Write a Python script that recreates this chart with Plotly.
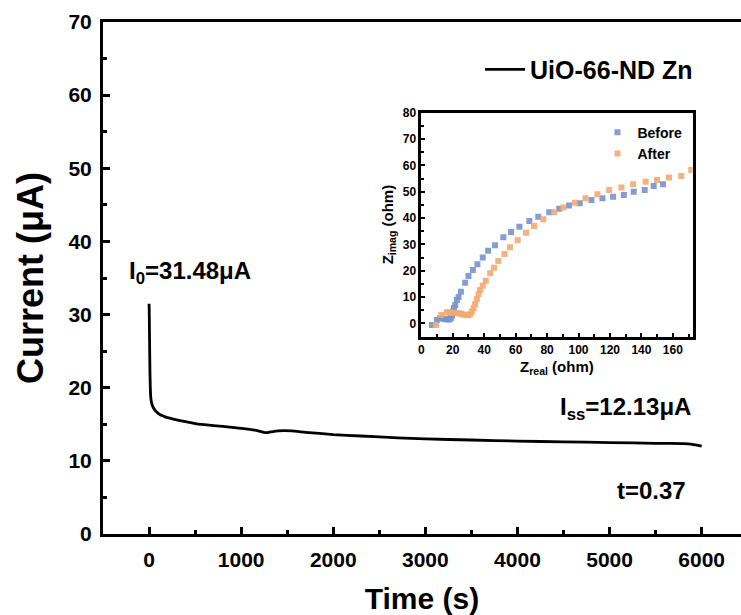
import plotly.graph_objects as go

# ---- main chronoamperometry curve ----
time_s = [0, 2, 5, 10, 15, 20, 30, 50, 80, 120, 160, 200, 300, 400, 500, 600, 800,
          1000, 1150, 1270, 1320, 1400, 1550, 1700, 2000, 2300, 2700, 3000, 3500,
          4000, 4500, 5000, 5500, 5800, 5900, 6000]
current_uA = [31.48, 30.5, 27.0, 22.0, 19.5, 18.5, 17.8, 17.2, 16.7, 16.3, 16.1, 15.9,
              15.6, 15.35, 15.1, 14.95, 14.7, 14.45, 14.2, 13.85, 13.95, 14.1, 14.1,
              13.9, 13.6, 13.4, 13.15, 13.0, 12.85, 12.7, 12.6, 12.5, 12.4, 12.35,
              12.25, 12.0]

# ---- inset Nyquist data ----
before_zr = [6.8, 9.9, 12.0, 13.5, 15.0, 16.5, 18.0, 18.8, 19.5, 20.2, 20.8, 21.6, 22.6,
             23.7, 25.2, 27.9, 30.0, 32.8, 35.7, 39.1, 42.5, 46.9, 52.2, 57.1, 62.4,
             68.7, 74.4, 81.4, 87.7, 94.0, 100.8, 108.2, 115.2, 122.0, 128.8, 135.1,
             142.1, 147.8, 153.7]
before_zi = [-0.6, 1.3, 1.9, 1.8, 1.6, 1.6, 1.5, 2.0, 3.0, 4.5, 5.8, 7.0, 8.9,
             10.0, 12.0, 15.4, 18.0, 20.3, 22.4, 25.0, 27.6, 29.7, 32.7, 34.7, 36.7,
             38.9, 40.5, 42.2, 43.5, 44.8, 45.6, 46.8, 47.5, 48.1, 48.7, 50.0,
             50.6, 52.2, 52.8]
after_zr = [9.3, 12.7, 16.3, 18.0, 19.5, 21.0, 22.5, 24.0, 25.5, 27.0, 28.5, 29.8, 31.0,
            32.1, 33.2, 34.2, 35.3, 36.4, 37.4, 39.1, 41.0, 43.8, 46.3, 49.0, 52.9,
            56.4, 61.3, 66.6, 71.7, 77.6, 84.4, 90.3, 97.7, 104.4, 112.0, 119.5,
            127.3, 134.7, 142.7, 149.9, 157.5, 165.3, 171.7]
after_zi = [-0.6, 3.2, 4.2, 4.1, 4.0, 4.0, 3.8, 3.8, 3.6, 3.4, 3.2, 3.2, 3.5,
            4.4, 5.7, 7.3, 9.2, 11.1, 12.7, 14.3, 16.2, 19.0, 21.1, 23.7, 26.3,
            28.9, 31.6, 34.4, 37.0, 39.5, 42.2, 44.0, 45.8, 47.5, 49.0, 50.6,
            51.6, 52.8, 53.8, 54.4, 55.4, 56.0, 58.2]

FONT = "Liberation Sans, Arial, sans-serif"
BLUE = "rgba(120,148,204,0.9)"
ORANGE = "rgba(244,168,112,0.9)"

fig = go.Figure()

fig.add_trace(go.Scatter(
    x=time_s, y=current_uA, mode="lines", name="UiO-66-ND Zn",
    line=dict(color="black", width=2.8, shape="spline", smoothing=0.4),
    xaxis="x", yaxis="y", legend="legend"))

fig.add_trace(go.Scatter(
    x=before_zr, y=before_zi, mode="markers", name="Before",
    marker=dict(symbol="square", size=6, color=BLUE),
    xaxis="x2", yaxis="y2", legend="legend2"))
fig.add_trace(go.Scatter(
    x=after_zr, y=after_zi, mode="markers", name="After",
    marker=dict(symbol="square", size=6, color=ORANGE),
    xaxis="x2", yaxis="y2", legend="legend2"))

axis_common = dict(showgrid=False, zeroline=False, showline=True, linecolor="black",
                   ticks="inside", tickcolor="black")

fig.update_layout(
    width=741, height=615,
    margin=dict(l=103, r=0, t=22, b=81),
    paper_bgcolor="white", plot_bgcolor="white",
    font=dict(family=FONT, color="black"),
    xaxis=dict(**axis_common, range=[-500, 6427], dtick=1000, linewidth=3,
               ticklen=7, tickwidth=2.5, mirror=True, ticklabelstandoff=5,
               minor=dict(ticks="inside", dtick=500, ticklen=4, tickwidth=2.5, tickcolor="black"),
               tickfont=dict(size=21, weight="bold"),
               title=dict(text="Time (s)", font=dict(size=30, weight="bold"), standoff=18)),
    yaxis=dict(**axis_common, range=[0, 70], dtick=10, linewidth=3,
               ticklen=7, tickwidth=2.5, ticklabelstandoff=4,
               minor=dict(ticks="inside", dtick=5, ticklen=4, tickwidth=2.5, tickcolor="black"),
               tickfont=dict(size=21, weight="bold"),
               title=dict(text="Current (μA)", font=dict(size=36, weight="bold"), standoff=14)),
    xaxis2=dict(**axis_common, domain=[0.4989, 0.924], anchor="y2", range=[0, 172.5],
                dtick=20, linewidth=2.5, mirror=True, ticklen=4, tickwidth=2,
                minor=dict(ticks="inside", dtick=10, ticklen=2.5, tickwidth=2, tickcolor="black"),
                tickfont=dict(size=12, weight="bold"),
                title=dict(text="Z<sub>real</sub> (ohm)", font=dict(size=15, weight="bold"), standoff=6)),
    yaxis2=dict(**axis_common, domain=[0.3857, 0.8229], anchor="x2", range=[-5, 80],
                dtick=10, linewidth=2.5, mirror=True, ticklen=4, tickwidth=2,
                minor=dict(ticks="inside", dtick=5, ticklen=2.5, tickwidth=2, tickcolor="black"),
                tickfont=dict(size=12, weight="bold"),
                title=dict(text="Z<sub>imag</sub> (ohm)", font=dict(size=15, weight="bold"), standoff=6)),
    legend=dict(x=0.591, y=0.952, xanchor="left", yanchor="top", bgcolor="rgba(0,0,0,0)",
                font=dict(size=25, weight="bold"), itemwidth=40),
    legend2=dict(x=0.775, y=0.815, xanchor="left", yanchor="top", bgcolor="rgba(0,0,0,0)",
                 font=dict(size=14, weight="bold"), tracegroupgap=0, itemwidth=30),
    showlegend=True,
)

ann_font = dict(family=FONT, size=24, color="black", weight="bold")
fig.add_annotation(x=-240, y=35.7, xref="x", yref="y", text="I<sub>0</sub>=31.48μA",
                   showarrow=False, xanchor="left", yanchor="middle", font=ann_font)
fig.add_annotation(x=4440, y=17.1, xref="x", yref="y", text="I<sub>ss</sub>=12.13μA",
                   showarrow=False, xanchor="left", yanchor="middle", font=ann_font)
fig.add_annotation(x=5060, y=5.9, xref="x", yref="y", text="t=0.37",
                   showarrow=False, xanchor="left", yanchor="middle", font=ann_font)

fig.write_html("out.html")
